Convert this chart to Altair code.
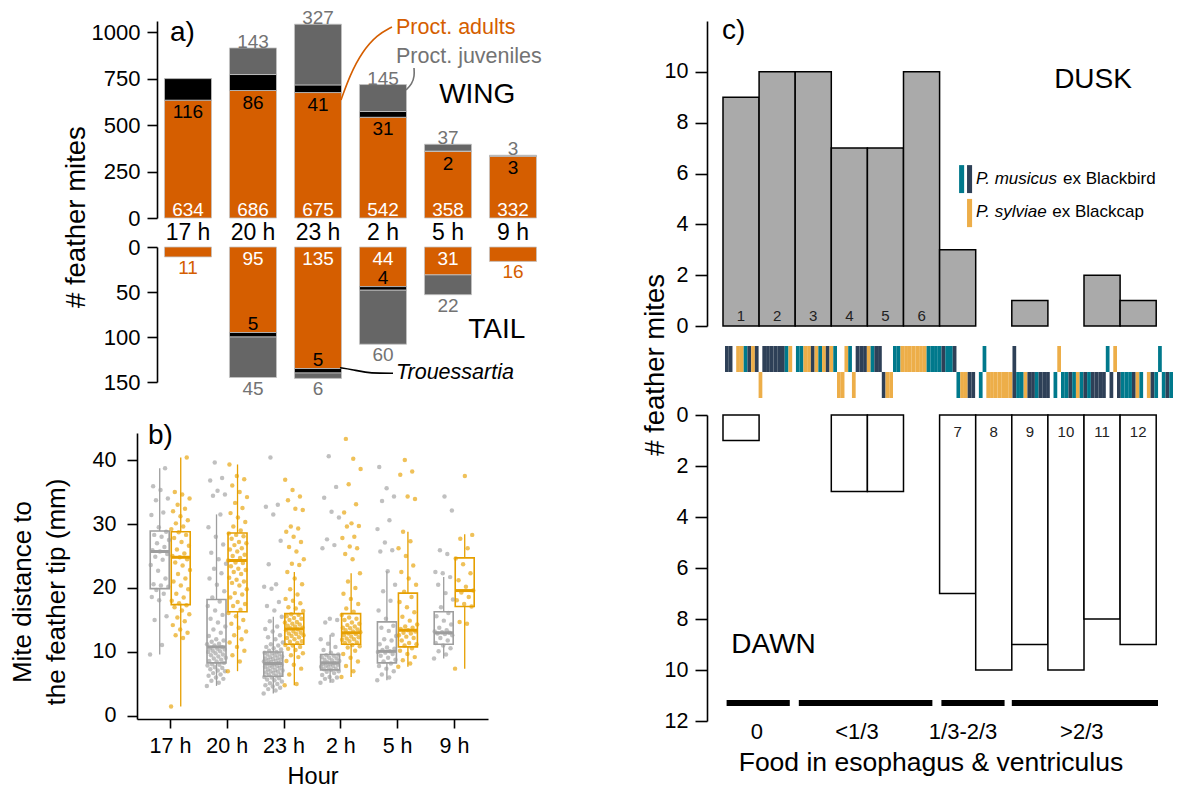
import altair as alt
import pandas as pd

FONT = "Liberation Sans"

# ---------------- panel a : counts per hour ----------------
HOURS = ["17 h", "20 h", "23 h", "2 h", "5 h", "9 h"]
WING_ADULTS = [634, 686, 675, 542, 358, 332]
WING_TROU = [116, 86, 41, 31, 2, 3]
WING_JUV = [0, 143, 327, 145, 37, 3]
TAIL_ADULTS = [11, 95, 135, 44, 31, 16]
TAIL_TROU = [0, 5, 5, 4, 0, 0]
TAIL_JUV = [0, 45, 6, 60, 22, 0]

# ---------------- panel b : mite distance (mm) ----------------
G17 = [9.6, 11.1, 15.0, 15.6, 18.1, 18.6, 19.1, 19.7, 20.2, 20.4, 20.6, 21.5, 22.7, 23.6, 24.4, 24.9, 25.3,
       25.7, 25.9, 26.4, 27.0, 27.5, 28.0, 28.3, 28.8, 29.5, 31.4, 31.8, 33.7, 34.0, 35.3, 35.9, 38.7]
O17 = [1.5, 12.2, 12.6, 13.0, 13.5, 14.2, 14.8, 15.4, 15.9, 16.5, 17.0, 17.3, 17.6, 18.0, 18.5, 19.1, 19.8,
       20.4, 21.0, 21.5, 22.2, 22.8, 23.5, 24.0, 24.5, 24.8, 25.0, 25.4, 26.0, 26.6, 27.2, 27.8, 28.3, 28.7,
       29.2, 29.6, 30.1, 30.6, 31.2, 32.0, 32.4, 33.0, 34.0, 34.6, 35.0, 40.4]
G20 = [4.7, 5.2, 5.5, 5.8, 6.0, 6.3, 6.5, 6.7, 7.0, 7.1, 7.3, 7.5, 7.6, 7.9, 8.0, 8.1, 8.3, 8.5, 8.6, 8.8,
       9.0, 9.1, 9.3, 9.5, 9.6, 9.8, 10.0, 10.1, 10.2, 10.4, 10.5, 10.6, 10.8, 11.0, 11.2, 11.3, 11.6, 11.8,
       12.0, 12.5, 13.0, 13.5, 14.0, 14.6, 15.2, 15.8, 16.5, 17.2, 17.9, 18.5, 19.5, 20.5, 21.5, 22.3, 23.0,
       23.8, 24.5, 25.5, 26.8, 28.0, 29.5, 31.5, 34.4, 34.6, 35.2, 36.8, 37.2, 39.6]
O20 = [7.0, 8.5, 9.5, 10.2, 10.8, 11.5, 12.0, 12.6, 13.2, 13.8, 14.4, 15.0, 15.6, 16.1, 16.6, 17.2, 17.5,
       17.8, 18.5, 19.0, 19.2, 19.8, 20.4, 20.8, 21.0, 21.3, 21.6, 22.2, 22.5, 22.8, 23.0, 23.4, 23.9, 24.0,
       24.3, 24.7, 25.0, 25.2, 25.7, 26.0, 26.2, 26.7, 27.0, 27.2, 27.7, 28.1, 28.3, 28.5, 29.0, 29.6, 30.3,
       31.0, 31.7, 32.5, 33.3, 34.2, 35.0, 36.0, 37.0, 37.5, 39.3]
G23 = [3.5, 4.0, 4.2, 4.4, 4.6, 4.8, 5.0, 5.1, 5.4, 5.6, 5.7, 5.9, 6.0, 6.1, 6.3, 6.4, 6.5, 6.7, 6.8, 6.9,
       7.0, 7.1, 7.2, 7.3, 7.5, 7.6, 7.7, 7.8, 7.9, 8.0, 8.1, 8.2, 8.3, 8.4, 8.5, 8.6, 8.7, 8.8, 8.9, 9.0,
       9.1, 9.2, 9.3, 9.5, 9.6, 9.7, 9.8, 9.9, 10.0, 10.2, 10.4, 10.6, 10.8, 11.0, 11.2, 11.5, 12.0, 12.3,
       12.6, 13.2, 13.6, 14.0, 14.8, 15.5, 16.5, 17.2, 17.8, 19.9, 20.2, 20.6, 23.7, 27.4, 31.5, 32.7, 33.0,
       40.4]
O23 = [4.8, 5.0, 6.5, 7.4, 8.0, 8.6, 9.2, 9.5, 9.8, 10.3, 10.5, 10.8, 11.0, 11.1, 11.4, 11.6, 11.7, 12.0,
       12.2, 12.3, 12.5, 12.6, 12.8, 12.9, 13.0, 13.2, 13.4, 13.5, 13.7, 13.8, 14.0, 14.1, 14.3, 14.4, 14.6,
       14.7, 15.0, 15.2, 15.3, 15.6, 15.8, 15.9, 16.4, 16.8, 17.0, 17.6, 18.0, 18.3, 19.0, 19.8, 20.6, 21.5,
       22.5, 23.6, 23.8, 24.5, 25.7, 26.4, 27.2, 28.0, 28.8, 29.3, 29.6, 32.2, 32.4, 33.7, 34.3, 35.3, 36.9]
G2 = [5.2, 5.5, 5.8, 6.0, 6.1, 6.4, 6.7, 6.9, 7.0, 7.2, 7.3, 7.4, 7.6, 7.7, 7.8, 7.9, 8.0, 8.1, 8.2, 8.3,
      8.4, 8.6, 8.7, 8.8, 9.0, 9.1, 9.2, 9.4, 9.5, 9.6, 9.9, 10.3, 10.8, 11.3, 12.0, 12.7, 14.6, 15.0, 15.2,
      26.2, 26.7, 27.6, 31.0, 31.9, 34.1, 35.8, 40.6]
O2 = [6.1, 7.0, 7.8, 8.5, 9.1, 9.7, 10.2, 10.7, 10.9, 11.1, 11.4, 11.5, 11.7, 11.9, 12.0, 12.1, 12.3, 12.4,
      12.6, 12.8, 12.9, 13.1, 13.2, 13.4, 13.5, 13.7, 13.8, 14.0, 14.2, 14.4, 14.6, 15.0, 15.2, 15.4, 15.8,
      16.3, 16.8, 17.5, 18.3, 19.1, 20.0, 21.0, 22.3, 24.5, 25.3, 26.2, 26.5, 27.8, 28.0, 29.6, 29.7, 30.1,
      31.8, 33.1, 36.2, 38.6, 40.2, 43.3]
G5 = [5.6, 6.0, 6.5, 7.0, 7.4, 7.8, 8.2, 8.5, 8.8, 9.1, 9.4, 9.7, 9.9, 10.0, 10.1, 10.3, 10.5, 10.7, 11.2,
      11.8, 12.0, 12.5, 13.3, 13.8, 14.1, 15.2, 16.5, 18.0, 19.5, 20.5, 22.6, 25.7, 25.9, 27.1, 29.2, 30.6,
      33.6, 34.3, 35.6, 38.9]
O5 = [7.7, 8.2, 8.7, 9.2, 9.7, 10.2, 10.6, 11.0, 11.2, 11.4, 11.8, 12.2, 12.4, 12.6, 12.9, 13.0, 13.2, 13.4,
      13.6, 13.8, 14.0, 14.3, 14.9, 15.5, 16.2, 17.0, 17.8, 18.6, 19.4, 20.5, 21.5, 22.5, 23.5, 25.0, 26.2,
      27.3, 28.8, 33.9, 34.3, 37.7, 38.2, 40.0]
G9 = [9.0, 9.6, 10.1, 10.6, 11.0, 11.4, 11.8, 12.2, 12.6, 12.8, 12.9, 13.0, 13.1, 13.2, 13.4, 13.8, 14.3,
      14.9, 15.6, 16.1, 17.0, 18.2, 19.2, 20.5, 21.7, 22.3, 22.5, 25.3, 25.9, 32.1, 34.3]
O9 = [7.4, 14.4, 14.7, 17.1, 17.5, 18.1, 18.6, 19.3, 19.6, 20.2, 21.2, 22.3, 23.7, 24.6, 26.2, 27.7, 28.3, 37.5]
B_GRAY = [G17, G20, G23, G2, G5, G9]
B_ORANGE = [O17, O20, O23, O2, O5, O9]

GRAY_LO = [9.6, 4.7, 3.5, 5.2, 5.6, 9.0]
GRAY_Q1 = [19.9, 8.3, 6.2, 7.2, 8.3, 11.2]
GRAY_MED = [25.7, 10.8, 8.2, 8.3, 10.1, 13.0]
GRAY_Q3 = [28.9, 18.2, 10.0, 9.6, 14.7, 16.3]
GRAY_HI = [38.7, 31.5, 15.5, 12.7, 22.6, 21.7]
OR_LO = [1.5, 7.0, 4.8, 6.1, 7.7, 7.4]
OR_Q1 = [17.4, 16.3, 11.2, 11.2, 10.8, 17.1]
OR_MED = [24.8, 24.3, 13.6, 13.0, 13.4, 19.6]
OR_Q3 = [28.8, 28.6, 16.0, 16.0, 19.2, 24.7]
OR_HI = [40.4, 39.3, 22.5, 22.3, 28.8, 28.4]

# ---------------- panel c : per-bird counts ----------------
SLOTS = list(range(1, 13))
DUSK_COUNTS = [9, 10, 10, 7, 7, 10, 3, 0, 1, 0, 2, 1]
DAWN_COUNTS = [1, 0, 0, 3, 3, 0, 7, 10, 9, 10, 8, 9]
DUSK_IDS = ["1", "2", "3", "4", "5", "6", "", "", "", "", "", ""]
DAWN_IDS = ["", "", "", "", "", "", "7", "8", "9", "10", "11", "12"]
STRIP_DUSK = ("nn.ootnon." "nnnnnnto.t" "toonotonot" "..ot.nnnot" "nn...ttooo" "oooottttnt"
              "tn.......t" ".......n.." ".........o" ".........." "..t.o....." "......t...")
STRIP_DAWN = (".........o" ".........." ".........." "oo..o....." "..noo....." ".........."
              "..toonn.t." "ooooooontt" "onntnnn.t." "ttntotntnn" "nn.n.ntttn" "ot.ont.tnt")
FOOD_CATS = ["0", "<1/3", "1/3-2/3", ">2/3"]
FOOD_FROM = [0.1, 2.1, 6.05, 8.0]
FOOD_TO = [1.85, 5.8, 7.8, 12.05]
FOOD_LABEL_AT = [0.94, 3.71, 6.65, 9.94]

ORANGE_A = "#D55E00"
JUV_FILL = "#666666"
JUV_TXT = "#737373"
GRAY_B = "#9E9E9E"
ORANGE_B = "#E69F00"
TEAL, NAVY, GOLD = "#00798c", "#2e4057", "#edae49"

LAYERS = []


def sc(domain, rng):
    return alt.Scale(domain=domain, range=rng, nice=False, zero=False)


def left_axis(offset, values, size=10, pad=7, fs=22):
    return alt.Axis(orient="left", offset=offset, values=values, tickSize=size, labelPadding=pad,
                    labelFontSize=fs, labelColor="black", domainColor="black", tickColor="black",
                    domainWidth=1.6, tickWidth=1.6, grid=False, title=None, labelOverlap=False,
                    labelFont=FONT, format="d")


def text_marks(xs, ys, xv, yv, tv, **kw):
    df = pd.DataFrame({"x": list(xv), "y": list(yv), "t": [str(s) for s in tv]})
    LAYERS.append(alt.Chart(df).mark_text(font=FONT, **kw).encode(
        x=alt.X("x:Q", scale=xs, axis=None),
        y=alt.Y("y:Q", scale=ys, axis=None),
        text="t:N"))


def curve(xv, yv, xs, ys, color):
    df = pd.DataFrame({"x": xv, "y": yv, "j": list(range(len(xv)))})
    LAYERS.append(alt.Chart(df).mark_line(color=color, strokeWidth=1.6, interpolate="basis").encode(
        x=alt.X("x:Q", scale=xs, axis=None), y=alt.Y("y:Q", scale=ys, axis=None),
        order=alt.Order("j:Q")))


# ================= panel a =================
XA = sc([-0.5, 5.5], [147.5, 537.5])
YW = sc([0, 1060], [210, 13])
YT = sc([0, 150], [239, 374])
SEG = alt.Scale(domain=["adult", "trou", "juv"], range=[ORANGE_A, "#000000", JUV_FILL])


def stack_rows(adults, trou, juv):
    rows = []
    for i in range(6):
        a, t, j = adults[i], trou[i], juv[i]
        for seg, lo, hi in (("adult", 0, a), ("trou", a, a + t), ("juv", a + t, a + t + j)):
            if hi > lo:
                rows.append({"i": i, "seg": seg, "lo": lo, "hi": hi})
    return pd.DataFrame(rows)


def bars(df, ys, axis):
    LAYERS.append(alt.Chart(df).transform_calculate(
        x0="datum.i - 0.362", x1="datum.i + 0.362"
    ).mark_rect(stroke="#c4c4c4", strokeWidth=0.8).encode(
        x=alt.X("x0:Q", scale=XA, axis=None), x2="x1:Q",
        y=alt.Y("lo:Q", scale=ys, axis=axis), y2="hi:Q",
        color=alt.Color("seg:N", scale=SEG, legend=None)))


idx = list(range(6))
wing_tot = [WING_ADULTS[i] + WING_TROU[i] + WING_JUV[i] for i in idx]
tail_tot = [TAIL_ADULTS[i] + TAIL_TROU[i] + TAIL_JUV[i] for i in idx]
wj = [i for i in idx if WING_JUV[i] > 0]
t_in = [i for i in idx if TAIL_TROU[i] + TAIL_JUV[i] > 0]
t_out = [i for i in idx if TAIL_TROU[i] + TAIL_JUV[i] == 0]
t_tr = [i for i in idx if TAIL_TROU[i] > 0]
t_jv = [i for i in idx if TAIL_JUV[i] > 0]

bars(stack_rows(WING_ADULTS, WING_TROU, WING_JUV), YW, left_axis(-149, [0, 250, 500, 750, 1000]))
text_marks(XA, YW, idx, [0] * 6, WING_ADULTS, color="white", fontSize=19, dy=-8)
text_marks(XA, YW, idx, WING_ADULTS, WING_TROU, color="black", fontSize=19, dy=12.2)
text_marks(XA, YW, wj, [wing_tot[i] for i in wj], [WING_JUV[i] for i in wj], color=JUV_TXT,
           fontSize=19, dy=-6)
text_marks(XA, YW, [-0.277], [994], ["a)"], fontSize=28, align="left")
text_marks(XA, YW, [4.45], [662], ["WING"], fontSize=28)
text_marks(XA, YW, [3.2], [1020], ["Proct. adults"], fontSize=21.5, align="left", color=ORANGE_A)
text_marks(XA, YW, [3.2], [868], ["Proct. juveniles"], fontSize=21.5, align="left", color=JUV_TXT)
text_marks(XA, YW, [-1.708], [5], ["# feather mites"], fontSize=27.5, angle=270)
curve([2.354, 2.492, 2.677, 2.908, 3.138], [635, 769, 893, 985, 1028], XA, YW, ORANGE_A)
curve([3.354, 3.446, 3.485, 3.477], [689, 721, 764, 807], XA, YW, JUV_TXT)

bars(stack_rows(TAIL_ADULTS, TAIL_TROU, TAIL_JUV), YT, left_axis(-149, [0, 50, 100, 150]))
text_marks(XA, YT, t_in, [0] * len(t_in), [TAIL_ADULTS[i] for i in t_in], color="white",
           fontSize=19, dy=11.5)
text_marks(XA, YT, t_out, [TAIL_ADULTS[i] for i in t_out], [TAIL_ADULTS[i] for i in t_out],
           color=ORANGE_A, fontSize=19, dy=11)
text_marks(XA, YT, t_tr, [TAIL_ADULTS[i] for i in t_tr], [TAIL_TROU[i] for i in t_tr],
           color="black", fontSize=19, dy=-8.5)
text_marks(XA, YT, t_jv, [tail_tot[i] for i in t_jv], [TAIL_JUV[i] for i in t_jv],
           color=JUV_TXT, fontSize=19, dy=11)
text_marks(XA, YT, idx, [-15.6] * 6, HOURS, fontSize=23, color="black")
text_marks(XA, YT, [4.75], [92], ["TAIL"], fontSize=28)
text_marks(XA, YT, [3.2], [140.4], ["Trouessartia"], fontSize=21.5, align="left", fontStyle="italic")
curve([2.338, 2.523, 2.723, 2.954, 3.154], [134.1, 136.1, 139.4, 140.3, 140.3], XA, YT, "black")

# ================= panel b =================
XB = sc([-0.58, 5.6], [129, 480])
YB = sc([-0.47, 44.22], [711, 425])
SP = alt.Scale(domain=["g", "o"], range=[GRAY_B, ORANGE_B])
OFF = "(datum.sp == 'g' ? -0.18 : 0.19)"

pts = []
for h in idx:
    for sp, vals in (("g", B_GRAY[h]), ("o", B_ORANGE[h])):
        for k, v in enumerate(vals):
            pts.append({"h": h, "sp": sp, "k": k, "v": v})
pts = pd.DataFrame(pts)

box = []
for h in idx:
    box.append({"h": h, "sp": "g", "lo": GRAY_LO[h], "q1": GRAY_Q1[h], "med": GRAY_MED[h],
                "q3": GRAY_Q3[h], "hi": GRAY_HI[h]})
    box.append({"h": h, "sp": "o", "lo": OR_LO[h], "q1": OR_Q1[h], "med": OR_MED[h],
                "q3": OR_Q3[h], "hi": OR_HI[h]})
box = pd.DataFrame(box)

label_expr = "[" + ",".join("'%s'" % s for s in HOURS) + "][datum.value]"
xaxis_b = alt.Axis(orient="bottom", offset=-71, values=idx, labelExpr=label_expr, tickSize=9,
                   labelPadding=7, labelFontSize=21.5, labelColor="black", domainColor="black",
                   tickColor="black", domainWidth=1.6, tickWidth=1.6, grid=False, title=None,
                   labelOverlap=False, labelFlush=False, labelFont=FONT)

boxbase = alt.Chart(box).transform_calculate(
    c="datum.h + " + OFF, x0="datum.h + " + OFF + " - 0.167", x1="datum.h + " + OFF + " + 0.167")

LAYERS.append(boxbase.mark_rule(strokeWidth=1.3).encode(
    x=alt.X("c:Q", scale=XB, axis=None), y=alt.Y("lo:Q", scale=YB, axis=None), y2="q1:Q",
    color=alt.Color("sp:N", scale=SP, legend=None)))
LAYERS.append(boxbase.mark_rule(strokeWidth=1.3).encode(
    x=alt.X("c:Q", scale=XB, axis=None), y=alt.Y("q3:Q", scale=YB, axis=None), y2="hi:Q",
    color=alt.Color("sp:N", scale=SP, legend=None)))
LAYERS.append(boxbase.mark_rect(fillOpacity=0, strokeWidth=1.6).encode(
    x=alt.X("x0:Q", scale=XB, axis=None), x2="x1:Q",
    y=alt.Y("q1:Q", scale=YB, axis=None), y2="q3:Q",
    stroke=alt.Stroke("sp:N", scale=SP, legend=None)))
LAYERS.append(boxbase.mark_rule(strokeWidth=3).encode(
    x=alt.X("x0:Q", scale=XB, axis=None), x2="x1:Q", y=alt.Y("med:Q", scale=YB, axis=None),
    color=alt.Color("sp:N", scale=SP, legend=None)))
LAYERS.append(alt.Chart(pts).transform_calculate(
    xj="datum.h + " + OFF + " + ((datum.k * 0.618034) % 1 - 0.5) * 0.34"
).mark_circle(size=20, opacity=0.65).encode(
    x=alt.X("xj:Q", scale=XB, axis=xaxis_b),
    y=alt.Y("v:Q", scale=YB, axis=left_axis(-129, [0, 10, 20, 30, 40], size=10, pad=11, fs=21.5)),
    color=alt.Color("sp:N", scale=SP, legend=None)))
text_marks(XB, YB, [-0.386], [43.75], ["b)"], fontSize=28, align="left")
text_marks(XB, YB, [-2.58], [19.37], ["Mite distance to"], fontSize=26, angle=270)
text_marks(XB, YB, [-1.99], [19.37], ["the feather tip (mm)"], fontSize=26, angle=270)
text_marks(XB, YB, [2.52], [-9.55], ["Hour"], fontSize=23.5)

# ================= panel c =================
XC = sc([-0.443, 12.493], [699, 1166])
YD = sc([0, 12], [318, 13])
YN = sc([0, 12], [407, 713])
XS = sc([0, 120], [717, 1165])
YS = sc([0, 2], [338, 390])
SPC = alt.Scale(domain=["t", "n", "o"], range=[TEAL, NAVY, GOLD])

dusk_df = pd.DataFrame({"slot": SLOTS, "n": DUSK_COUNTS})
dusk_df = dusk_df[dusk_df.n > 0]
dawn_df = pd.DataFrame({"slot": SLOTS, "n": DAWN_COUNTS})
dawn_df = dawn_df[dawn_df.n > 0]
dusk_lab = [(s - 0.5, t) for s, t in zip(SLOTS, DUSK_IDS) if t]
dawn_lab = [(s - 0.5, t) for s, t in zip(SLOTS, DAWN_IDS) if t]


def hist(df, ys, axis, fill):
    LAYERS.append(alt.Chart(df).transform_calculate(
        x0="datum.slot - 1", x1="datum.slot", z="0"
    ).mark_rect(fill=fill, stroke="black", strokeWidth=1.5).encode(
        x=alt.X("x0:Q", scale=XC, axis=None), x2="x1:Q",
        y=alt.Y("z:Q", scale=ys, axis=axis), y2="n:Q"))


leg_df = pd.DataFrame({"x0": [6.54, 6.76, 6.76], "x1": [6.68, 6.90, 6.90],
                       "y0": [6.33, 6.33, 5.0], "y1": [5.23, 5.23, 3.89], "sp": ["t", "n", "o"]})

hist(dusk_df, YD, left_axis(-699, [0, 2, 4, 6, 8, 10], size=12, pad=7, fs=21.5), "#AAAAAA")
text_marks(XC, YD, [p[0] for p in dusk_lab], [0.39] * len(dusk_lab), [p[1] for p in dusk_lab],
           fontSize=15, color="#222222")
text_marks(XC, YD, [-0.03], [11.6], ["c)"], fontSize=28, align="left")
text_marks(XC, YD, [10.25], [9.68], ["DUSK"], fontSize=28)
LAYERS.append(alt.Chart(leg_df).mark_rect().encode(
    x=alt.X("x0:Q", scale=XC, axis=None), x2="x1:Q",
    y=alt.Y("y0:Q", scale=YD, axis=None), y2="y1:Q",
    color=alt.Color("sp:N", scale=SPC, legend=None)))
text_marks(XC, YD, [7.01], [5.78], ["P. musicus"], fontSize=17, align="left", fontStyle="italic")
text_marks(XC, YD, [9.42], [5.78], ["ex Blackbird"], fontSize=17, align="left")
text_marks(XC, YD, [7.01], [4.48], ["P. sylviae"], fontSize=17, align="left", fontStyle="italic")
text_marks(XC, YD, [9.12], [4.48], ["ex Blackcap"], fontSize=17, align="left")
text_marks(XC, YD, [-1.86], [-1.53], ["# feather mites"], fontSize=27.5, angle=270)

strip_rows = []
for r, s in enumerate((STRIP_DUSK, STRIP_DAWN)):
    for k, ch in enumerate(s):
        if ch != ".":
            strip_rows.append({"k": k, "r": r, "sp": ch})
LAYERS.append(alt.Chart(pd.DataFrame(strip_rows)).transform_calculate(
    k1="datum.k + 1", r1="datum.r + 1"
).mark_rect().encode(
    x=alt.X("k:Q", scale=XS, axis=None), x2="k1:Q",
    y=alt.Y("r:Q", scale=YS, axis=None), y2="r1:Q",
    color=alt.Color("sp:N", scale=SPC, legend=None)))

food_df = pd.DataFrame({"a": FOOD_FROM, "b": FOOD_TO, "y": [11.29] * 4})
hist(dawn_df, YN, left_axis(-699, [0, 2, 4, 6, 8, 10, 12], size=12, pad=7, fs=21.5), "white")
text_marks(XC, YN, [p[0] for p in dawn_lab], [0.67] * len(dawn_lab), [p[1] for p in dawn_lab],
           fontSize=15, color="#222222")
LAYERS.append(alt.Chart(food_df).mark_rule(strokeWidth=6, color="black", strokeCap="butt").encode(
    x=alt.X("a:Q", scale=XC, axis=None), x2="b:Q", y=alt.Y("y:Q", scale=YN, axis=None)))
text_marks(XC, YN, FOOD_LABEL_AT, [12.44] * 4, FOOD_CATS, fontSize=22)
text_marks(XC, YN, [1.40], [9.02], ["DAWN"], fontSize=28)
text_marks(XC, YN, [5.76], [13.65], ["Food in esophagus & ventriculus"], fontSize=26.5)

chart = alt.layer(*LAYERS).resolve_scale(
    x="independent", y="independent", color="independent", stroke="independent"
).properties(
    width=1166, height=782, padding=0, autosize=alt.AutoSizeParams(type="none")
).configure(font=FONT, background="white").configure_view(strokeWidth=0)

chart.save("out.html", embed_options={"renderer": "svg", "actions": False})
